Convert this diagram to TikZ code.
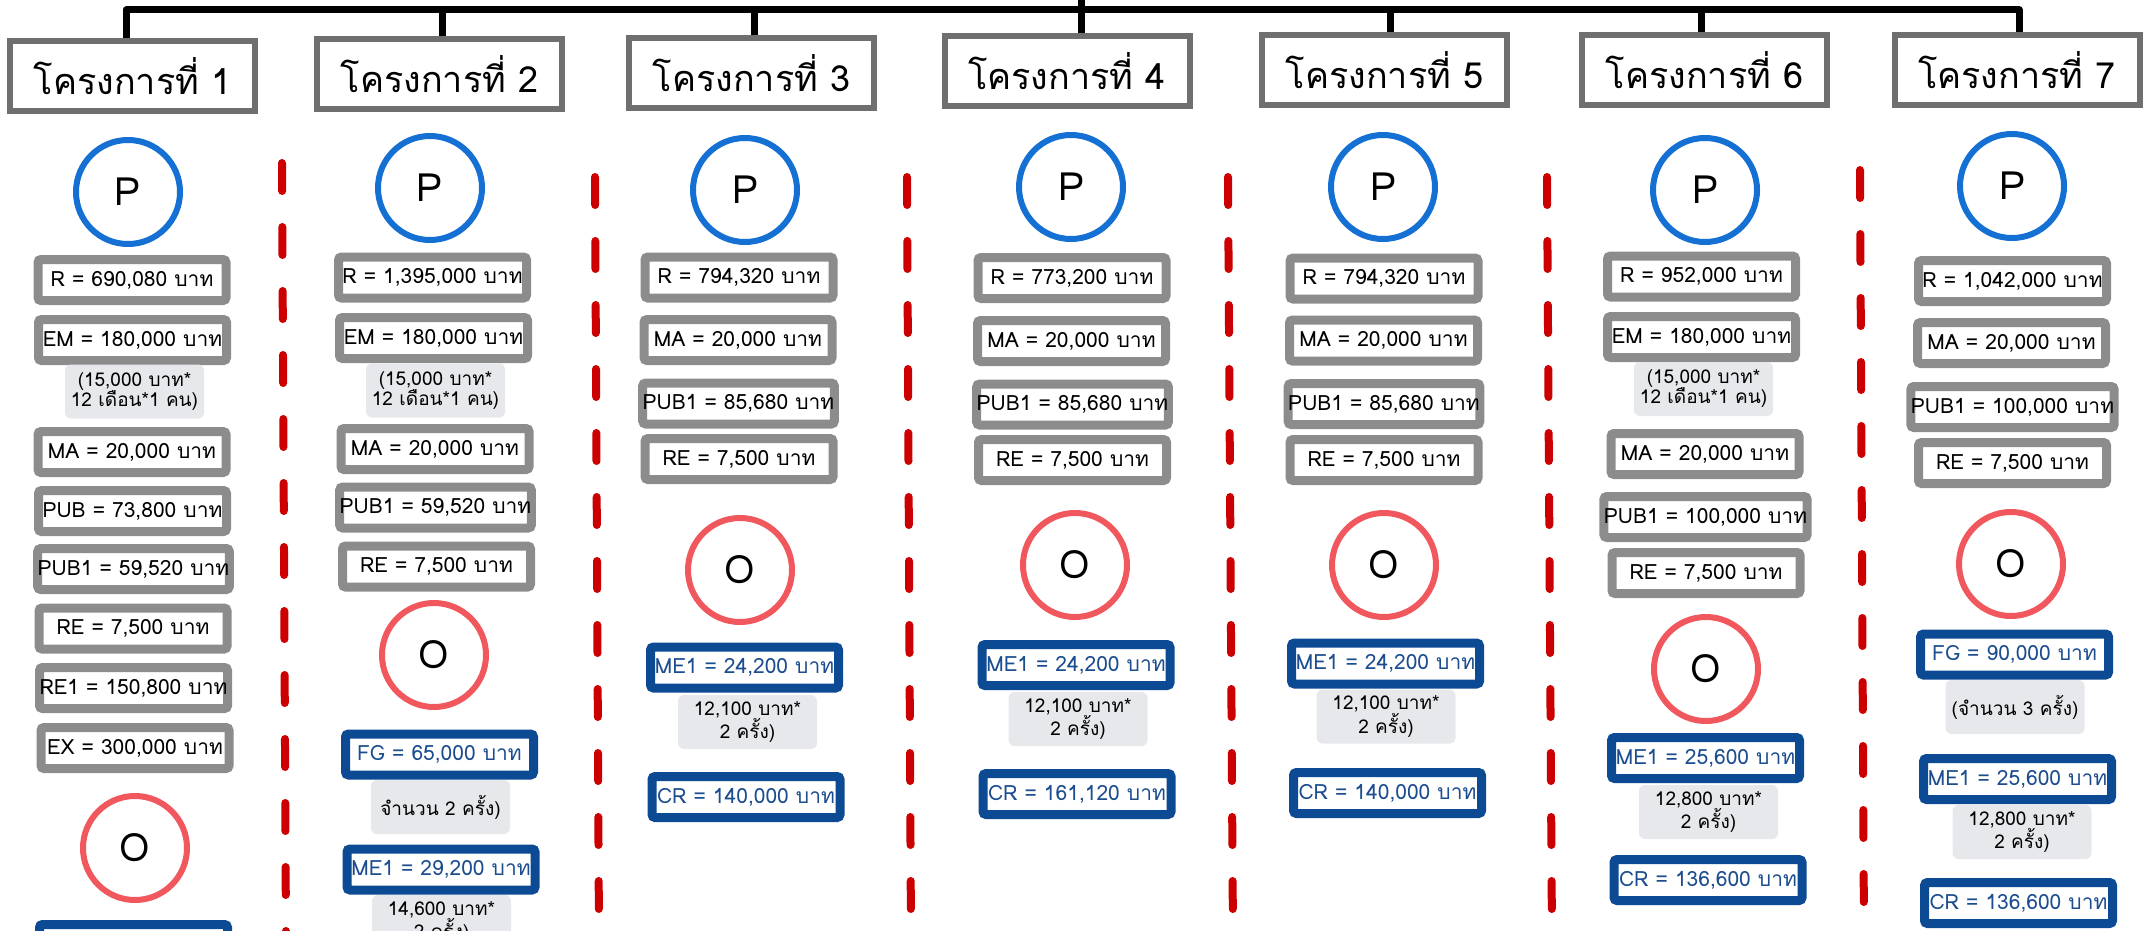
\documentclass[tikz,border=0pt]{standalone}
\usepackage{fontspec}
\setmainfont[Script=Thai]{Loma}

\definecolor{titlegray}{HTML}{6F6F6F}
\definecolor{boxgray}{HTML}{8C8C8C}
\definecolor{notegray}{HTML}{E6E8EB}
\definecolor{navy}{HTML}{0C4A94}
\definecolor{navytext}{HTML}{1C4D8F}
\definecolor{pblue}{HTML}{1570D4}
\definecolor{ored}{HTML}{F0585E}
\definecolor{sepred}{HTML}{CC0000}

\tikzset{
  titlebox/.style={draw=titlegray, line width=6pt, fill=white, minimum width=245pt,
    minimum height=70pt, inner sep=0pt, font=\fontsize{36}{40}\selectfont},
  gbox/.style={draw=boxgray, line width=9pt, rounded corners=3pt, fill=white,
    minimum width=188pt, minimum height=41pt, inner sep=0pt, font=\fontsize{21}{24}\selectfont},
  bbox/.style={gbox, draw=navy, text=navytext},
  notebox/.style={fill=notegray, rounded corners=6pt, minimum width=139pt, minimum height=54pt,
    inner sep=0pt, align=center, font=\fontsize{19}{20}\selectfont},
  pcirc/.style={circle, draw=pblue, line width=6pt, minimum size=104pt, inner sep=0pt,
    font=\fontsize{39}{40}\selectfont},
  ocirc/.style={pcirc, draw=ored},
  divider/.style={draw=sepred, line width=8pt, line cap=round, dash pattern=on 28pt off 36pt},
  barline/.style={draw=black, line width=7pt}
}

\begin{document}
\begin{tikzpicture}[x=1pt,y=-1pt]
\useasboundingbox (0,0) rectangle (2146,931);
\clip (0,0) rectangle (2146,931);

% ---- project 1
\node[titlebox] (t1) at (132.5,76) {โครงการที่ 1};
\node[pcirc] (p1) at (128,192) {P};
\node[gbox] (c1r) at (132,280) {R = 690,080 บาท};
\node[gbox] (c1em) at (132.5,340) {EM = 180,000 บาท};
\node[notebox] (c1n) at (134.5,391.5) {(15,000 บาท*\\12 เดือน*1 คน)};
\node[gbox] (c1ma) at (132,452) {MA = 20,000 บาท};
\node[gbox] (c1pub) at (132.5,511) {PUB = 73,800 บาท};
\node[gbox] (c1pubi) at (133.5,569) {PUB1 = 59,520 บาท};
\node[gbox] (c1re) at (133,628.5) {RE = 7,500 บาท};
\node[gbox] (c1rei) at (133.5,688) {RE1 = 150,800 บาท};
\node[gbox] (c1ex) at (135,748) {EX = 300,000 บาท};
\node[ocirc] (o1) at (135,848) {O};
\node[bbox] (c1b) at (133.5,945) {};

% ---- project 2
\node[titlebox] (t2) at (439.5,74.5) {โครงการที่ 2};
\node[pcirc] (p2) at (430,188) {P};
\node[gbox] (c2r) at (432.5,277.5) {R = 1,395,000 บาท};
\node[gbox] (c2em) at (433.5,338) {EM = 180,000 บาท};
\node[notebox] (c2n) at (435.5,390.5) {(15,000 บาท*\\12 เดือน*1 คน)};
\node[gbox] (c2ma) at (435,449) {MA = 20,000 บาท};
\node[gbox] (c2pubi) at (435.5,507.5) {PUB1 = 59,520 บาท};
\node[gbox] (c2re) at (436.5,566.5) {RE = 7,500 บาท};
\node[ocirc] (o2) at (434,655) {O};
\node[bbox] (c2fg) at (439.5,754.5) {FG = 65,000 บาท};
\node[notebox] (c2nf) at (440.5,807) {จำนวน 2 ครั้ง)};
\node[bbox] (c2me) at (441,869.5) {ME1 = 29,200 บาท};
\node[notebox] (c2nm) at (441.5,922) {14,600 บาท*\\2 ครั้ง)};

% ---- project 3
\node[titlebox] (t3) at (751.5,73) {โครงการที่ 3};
\node[pcirc] (p3) at (745,190) {P};
\node[gbox] (c3r) at (739,277.5) {R = 794,320 บาท};
\node[gbox] (c3ma) at (738,340) {MA = 20,000 บาท};
\node[gbox] (c3pubi) at (738.5,403.5) {PUB1 = 85,680 บาท};
\node[gbox] (c3re) at (739,459) {RE = 7,500 บาท};
\node[ocirc] (o3) at (740,570) {O};
\node[bbox] (c3me) at (744.5,667.5) {ME1 = 24,200 บาท};
\node[notebox] (c3nm) at (747.5,722) {12,100 บาท*\\2 ครั้ง)};
\node[bbox] (c3cr) at (746,797) {CR = 140,000 บาท};

% ---- project 4
\node[titlebox] (t4) at (1067,71.5) {โครงการที่ 4};
\node[pcirc] (p4) at (1071,187) {P};
\node[gbox] (c4r) at (1072,278) {R = 773,200 บาท};
\node[gbox] (c4ma) at (1071.5,341) {MA = 20,000 บาท};
\node[gbox] (c4pubi) at (1072.5,404.5) {PUB1 = 85,680 บาท};
\node[gbox] (c4re) at (1072.5,460) {RE = 7,500 บาท};
\node[ocirc] (o4) at (1075,565) {O};
\node[bbox] (c4me) at (1076,665) {ME1 = 24,200 บาท};
\node[notebox] (c4nm) at (1078,719) {12,100 บาท*\\2 ครั้ง)};
\node[bbox] (c4cr) at (1077,794) {CR = 161,120 บาท};

% ---- project 5
\node[titlebox] (t5) at (1384.5,70.5) {โครงการที่ 5};
\node[pcirc] (p5) at (1383,187) {P};
\node[gbox] (c5r) at (1384,278.5) {R = 794,320 บาท};
\node[gbox] (c5ma) at (1383.5,340.5) {MA = 20,000 บาท};
\node[gbox] (c5pubi) at (1384,404) {PUB1 = 85,680 บาท};
\node[gbox] (c5re) at (1384,460) {RE = 7,500 บาท};
\node[ocirc] (o5) at (1384,565) {O};
\node[bbox] (c5me) at (1385.5,663.5) {ME1 = 24,200 บาท};
\node[notebox] (c5nm) at (1386,716.5) {12,100 บาท*\\2 ครั้ง)};
\node[bbox] (c5cr) at (1387.5,793) {CR = 140,000 บาท};

% ---- project 6
\node[titlebox] (t6) at (1704.5,70.5) {โครงการที่ 6};
\node[pcirc] (p6) at (1705,190) {P};
\node[gbox] (c6r) at (1701.5,276.5) {R = 952,000 บาท};
\node[gbox] (c6em) at (1701.5,337) {EM = 180,000 บาท};
\node[notebox] (c6n) at (1703.5,389) {(15,000 บาท*\\12 เดือน*1 คน)};
\node[gbox] (c6ma) at (1705,454) {MA = 20,000 บาท};
\node[gbox] (c6pubi) at (1705.5,517) {PUB1 = 100,000 บาท};
\node[gbox] (c6re) at (1706,573) {RE = 7,500 บาท};
\node[ocirc] (o6) at (1706,669) {O};
\node[bbox] (c6me) at (1705.5,758) {ME1 = 25,600 บาท};
\node[notebox] (c6nm) at (1708.5,812) {12,800 บาท*\\2 ครั้ง)};
\node[bbox] (c6cr) at (1708,880) {CR = 136,600 บาท};

% ---- project 7
\node[titlebox] (t7) at (2017,70) {โครงการที่ 7};
\node[pcirc] (p7) at (2012,186) {P};
\node[gbox] (c7r) at (2012.5,281) {R = 1,042,000 บาท};
\node[gbox] (c7ma) at (2011.5,343) {MA = 20,000 บาท};
\node[gbox] (c7pubi) at (2012.5,407) {PUB1 = 100,000 บาท};
\node[gbox] (c7re) at (2012.5,463) {RE = 7,500 บาท};
\node[ocirc] (o7) at (2011,564) {O};
\node[bbox] (c7fg) at (2014.5,654.5) {FG = 90,000 บาท};
\node[notebox] (c7nf) at (2015,707) {(จำนวน 3 ครั้ง)};
\node[bbox] (c7me) at (2017.5,779) {ME1 = 25,600 บาท};
\node[notebox] (c7nm) at (2022,832) {12,800 บาท*\\2 ครั้ง)};
\node[bbox] (c7cr) at (2018.5,903) {CR = 136,600 บาท};

% ---- bracket joining the seven projects
\coordinate (d1) at (126,10);
\coordinate (d2) at (442,10);
\coordinate (d3) at (754,10);
\coordinate (d4) at (1081,10);
\coordinate (d5) at (1390,10);
\coordinate (d6) at (1701,10);
\coordinate (d7) at (2019,10);
\coordinate (up) at (1081,-5);
\draw[barline, line join=round] (d1 |- t1.north) -- (d1) -- (d7) -- (d7 |- t7.north);
\draw[barline] (d2) -- (d2 |- t2.north);
\draw[barline] (d3) -- (d3 |- t3.north);
\draw[barline] (up) -- (d4 |- t4.north);
\draw[barline] (d5) -- (d5 |- t5.north);
\draw[barline] (d6) -- (d6 |- t6.north);

% ---- dashed dividers between the columns
\coordinate (s1a) at (282,163);  \coordinate (s1b) at (286,940);
\coordinate (s2a) at (595,177);  \coordinate (s2b) at (599,940);
\coordinate (s3a) at (907,177);  \coordinate (s3b) at (911,940);
\coordinate (s4a) at (1228,177); \coordinate (s4b) at (1233,940);
\coordinate (s5a) at (1547,177); \coordinate (s5b) at (1552,940);
\coordinate (s6a) at (1860,170); \coordinate (s6b) at (1864,940);
\foreach \k in {1,...,6} \draw[divider] (s\k a) -- (s\k b);
\end{tikzpicture}
\end{document}
